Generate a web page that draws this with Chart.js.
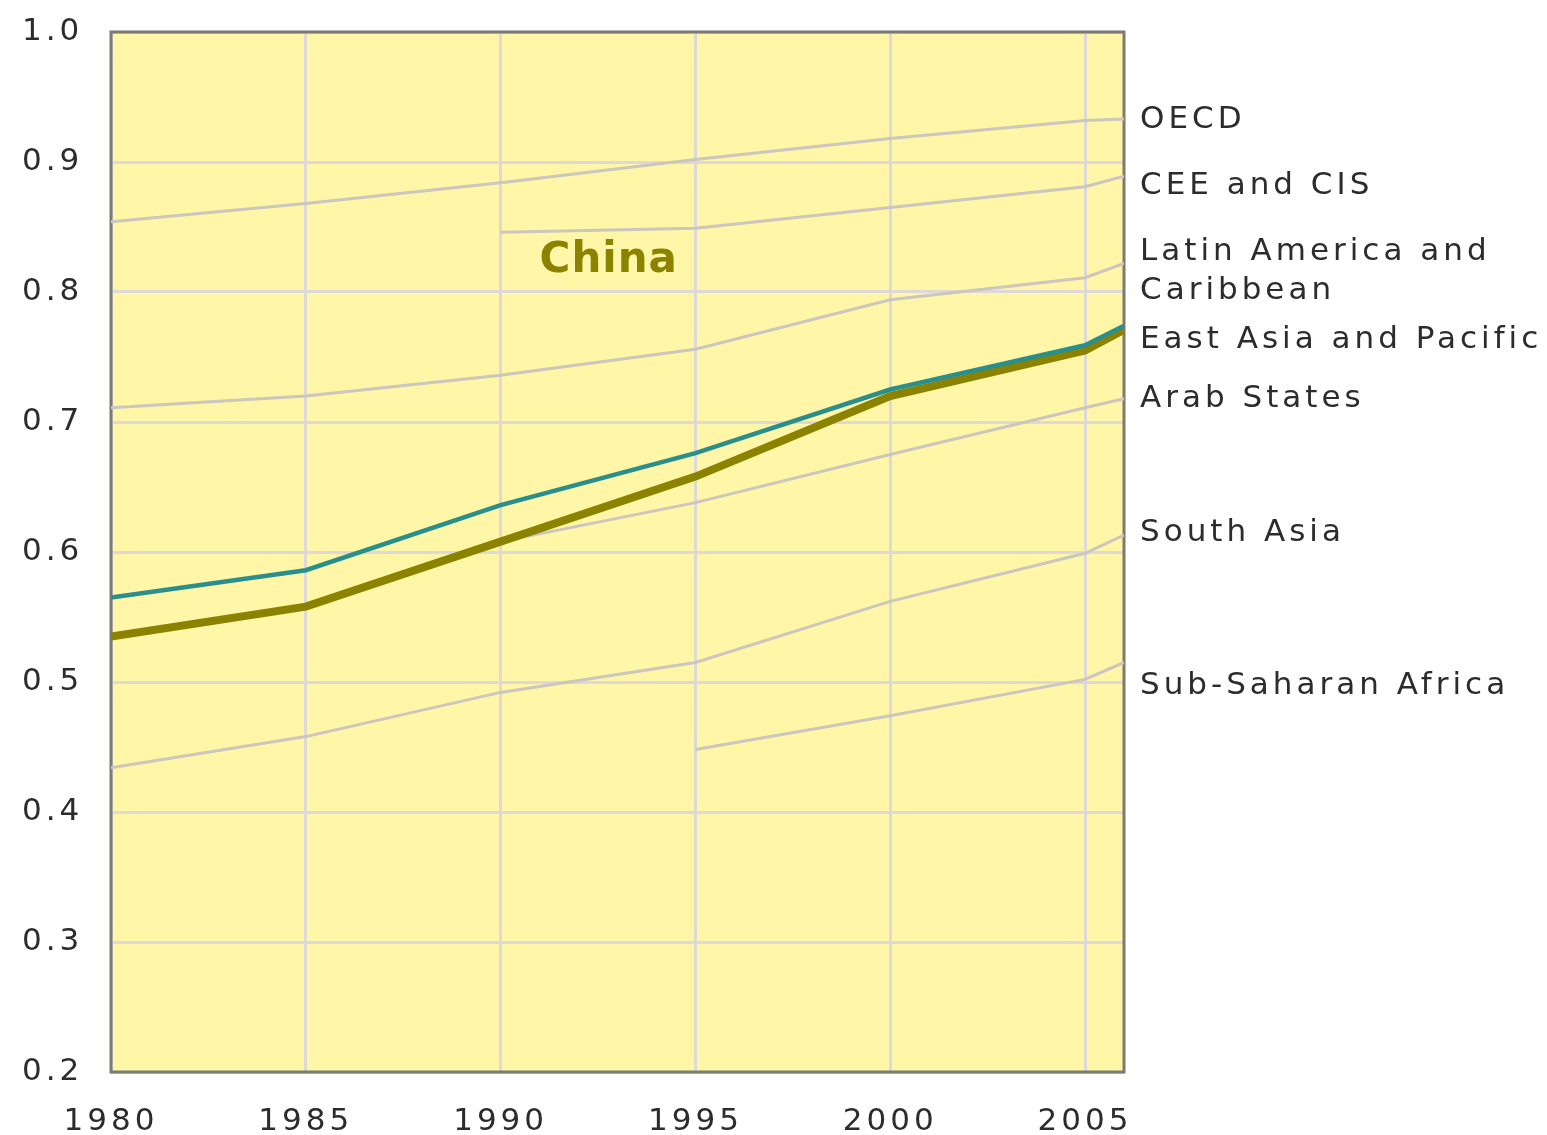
<!DOCTYPE html>
<html>
<head>
<meta charset="utf-8">
<script src="https://cdn.jsdelivr.net/npm/chart.js@4.4.1/dist/chart.umd.min.js"></script>
<style>
html,body{margin:0;padding:0;background:#ffffff;}
canvas{display:block;}
</style>
</head>
<body>
<canvas id="c" width="1547" height="1135"></canvas>
<script>
// ---- data ----
const years = [1980, 1985, 1990, 1995, 2000, 2005, 2006];
const oecd             = [0.854, 0.868, 0.884, 0.902, 0.918, 0.932, 0.933];
const ceeCis           = [null,  null,  0.846, 0.849, 0.865, 0.881, 0.889];
const latinAmerica     = [0.711, 0.720, 0.736, 0.756, 0.794, 0.811, 0.822];
const eastAsiaPacific  = [0.565, 0.586, 0.636, 0.676, 0.725, 0.759, 0.774];
const china            = [0.535, 0.558, 0.608, 0.658, 0.720, 0.755, 0.771];
const arabStates       = [null,  null,  0.608, 0.638, 0.675, 0.711, 0.718];
const southAsia        = [0.434, 0.458, 0.492, 0.515, 0.562, 0.599, 0.613];
const subSaharanAfrica = [null,  null,  null,  0.448, 0.474, 0.502, 0.515];

const xTicks = [1980, 1985, 1990, 1995, 2000, 2005];
const yTicks = [0.2, 0.3, 0.4, 0.5, 0.6, 0.7, 0.8, 0.9, 1.0];

const regionNames  = ['OECD', 'CEE and CIS', 'Latin America and', 'Caribbean', 'East Asia and Pacific', 'Arab States', 'South Asia', 'Sub-Saharan Africa'];
const regionLabelY = [0.932, 0.8815, 0.831, 0.801, 0.763, 0.718, 0.615, 0.497];
const highlightName = 'China';
const highlightAt = [1991, 0.824];

// ---- styles ----
const BG = '#fff6a8';
const GRID = '#dcd9d8';
const REGION = '#cbc6be';
const OLIVE = '#8b8200';
const TEAL = '#2a8f8c';
const FRAME = '#7c7a72';
const TEXT = '#2c2c2c';
const FONT = '"DejaVu Sans", Verdana, sans-serif';

const pts = arr => years.map((y, i) => ({x: y, y: arr[i]}));

function grey(label, arr) {
  return {label, data: pts(arr), borderColor: REGION, borderWidth: 3, pointRadius: 0, tension: 0, spanGaps: false};
}

const decor = {
  id: 'decor',
  beforeDraw(chart) {
    const {ctx, chartArea: a} = chart;
    ctx.save();
    ctx.fillStyle = BG;
    ctx.fillRect(a.left, a.top, a.right - a.left, a.bottom - a.top);
    ctx.restore();
    ctx.letterSpacing = '4px';
  },
  beforeDatasetsDraw(chart) {
    const {ctx, chartArea: a} = chart;
    ctx.save();
    ctx.strokeStyle = FRAME;
    ctx.lineWidth = 3;
    ctx.strokeRect(a.left, a.top, a.right - a.left, a.bottom - a.top);
    ctx.restore();
  },
  afterDraw(chart) {
    const {ctx, chartArea: a, scales} = chart;
    ctx.save();
    ctx.letterSpacing = '4px';
    ctx.fillStyle = TEXT;
    ctx.font = '31px ' + FONT;
    ctx.textAlign = 'left';
    ctx.textBaseline = 'middle';
    regionNames.forEach((n, i) => {
      ctx.fillText(n, a.right + 16, scales.y.getPixelForValue(regionLabelY[i]));
    });
    ctx.letterSpacing = '1px';
    ctx.fillStyle = OLIVE;
    ctx.font = 'bold 42px ' + FONT;
    ctx.fillText(highlightName, scales.x.getPixelForValue(highlightAt[0]), scales.y.getPixelForValue(highlightAt[1]));
    ctx.restore();
  }
};

new Chart(document.getElementById('c'), {
  type: 'line',
  data: {
    datasets: [
      {label: 'East Asia and Pacific', data: pts(eastAsiaPacific), borderColor: TEAL, borderWidth: 4.5, pointRadius: 0, tension: 0},
      {label: 'China', data: pts(china), borderColor: OLIVE, borderWidth: 8, pointRadius: 0, tension: 0},
      grey('OECD', oecd),
      grey('CEE and CIS', ceeCis),
      grey('Latin America and Caribbean', latinAmerica),
      grey('Arab States', arabStates),
      grey('South Asia', southAsia),
      grey('Sub-Saharan Africa', subSaharanAfrica)
    ]
  },
  options: {
    responsive: false,
    animation: false,
    events: [],
    layout: {padding: {left: 22, top: 32, right: 423, bottom: 0}},
    plugins: {legend: {display: false}, tooltip: {enabled: false}},
    scales: {
      x: {
        type: 'linear', min: 1980, max: 2006,
        afterBuildTicks: s => { s.ticks = xTicks.map(v => ({value: v})); },
        afterFit: s => { s.height = 63; },
        grid: {color: GRID, lineWidth: 3, drawTicks: false},
        border: {display: false},
        ticks: {color: TEXT, font: {family: FONT, size: 31}, padding: 31, maxRotation: 0, autoSkip: false, callback: v => String(v)}
      },
      y: {
        type: 'linear', min: 0.2, max: 1.0,
        afterBuildTicks: s => { s.ticks = yTicks.map(v => ({value: v})); },
        afterFit: s => { s.width = 89; },
        grid: {color: GRID, lineWidth: 3, drawTicks: false},
        border: {display: false},
        ticks: {color: TEXT, font: {family: FONT, size: 31}, padding: 0, crossAlign: 'far', autoSkip: false, callback: v => Number(v).toFixed(1)}
      }
    }
  },
  plugins: [decor]
});
</script>
</body>
</html>
